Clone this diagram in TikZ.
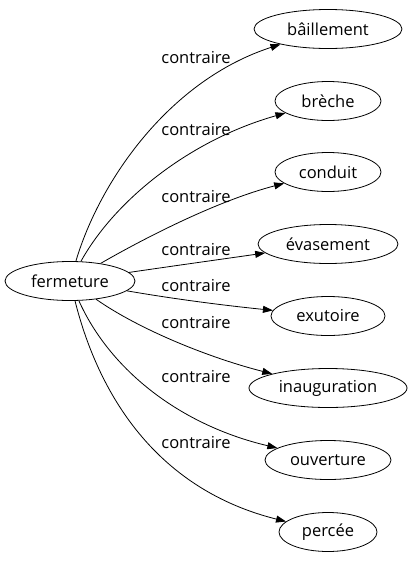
\documentclass[tikz,border=0pt]{standalone}
\usepackage{fontspec}
\setmainfont{Open Sans}
\usetikzlibrary{shapes.geometric,arrows.meta}
\tikzset{
  term/.style={ellipse, draw, line width=0.8pt, inner sep=0pt, minimum height=39pt, font=\fontsize{16.5}{19}\selectfont},
  edge/.style={line width=0.8pt, -{Triangle[length=10pt,width=7pt]}},
  lbl/.style={font=\fontsize{16.5}{19}\selectfont, inner sep=0pt}
}
\begin{document}
\begin{tikzpicture}[x=1pt,y=-1pt]
\useasboundingbox (0,0) rectangle (414,563);
\node[term, minimum width=130pt] (f) at (70,281) {fermeture};
\node[term, minimum width=148pt] (n1) at (328,29) {bâillement};
\node[term, minimum width=106pt] (n2) at (328,101) {brèche};
\node[term, minimum width=106pt] (n3) at (328,172) {conduit};
\node[term, minimum width=140pt] (n4) at (328,244) {évasement};
\node[term, minimum width=114pt] (n5) at (328,316) {exutoire};
\node[term, minimum width=158pt] (n6) at (328,388) {inauguration};
\node[term, minimum width=126pt] (n7) at (328,460) {ouverture};
\node[term, minimum width=98pt] (n8) at (328,532) {percée};
\draw[edge] (f) .. controls (100,180) and (170,80) .. (n1);
\draw[edge] (f) .. controls (115,200) and (190,140) .. (n2);
\draw[edge] (f) .. controls (150,235) and (220,200) .. (n3);
\draw[edge] (f) .. controls (180,265) and (230,258) .. (n4);
\draw[edge] (f) .. controls (180,300) and (230,306) .. (n5);
\draw[edge] (f) .. controls (140,330) and (210,358) .. (n6);
\draw[edge] (f) .. controls (110,370) and (180,425) .. (n7);
\draw[edge] (f) .. controls (100,400) and (160,490) .. (n8);
\node[lbl] (l1) at (196,58) {contraire};
\node[lbl] (l2) at (196,130) {contraire};
\node[lbl] (l3) at (196,197) {contraire};
\node[lbl] (l4) at (196,250) {contraire};
\node[lbl] (l5) at (196,286) {contraire};
\node[lbl] (l6) at (196,323) {contraire};
\node[lbl] (l7) at (196,377) {contraire};
\node[lbl] (l8) at (196,443) {contraire};
\end{tikzpicture}
\end{document}
